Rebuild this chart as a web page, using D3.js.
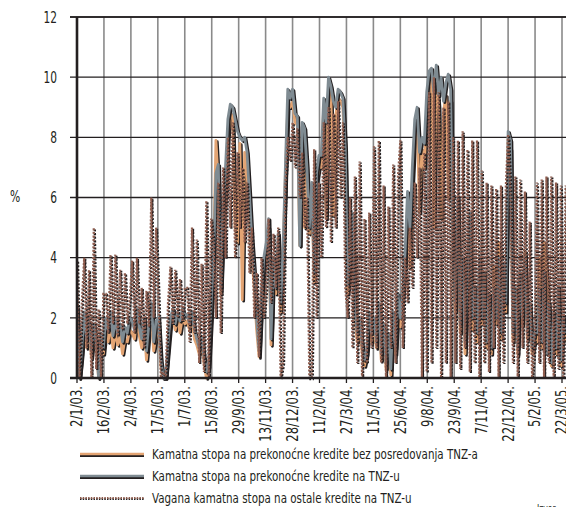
<!DOCTYPE html>
<html><head><meta charset="utf-8">
<script src="https://cdn.jsdelivr.net/npm/d3@7/dist/d3.min.js"></script>
<style>
body{margin:0;background:#fff}
svg{display:block}
text{font-family:"Liberation Sans Narrow","DejaVu Sans Condensed","Arial Narrow",sans-serif;fill:#231f20}
</style>
</head><body>
<svg id="chart" width="566" height="507"></svg>
<script>
// ---- data ----
const startDate = "2003-01-02";
const stepDays = 4;
const tickLabels = ["2/1/03.","16/2/03.","2/4/03.","17/5/03.","1/7/03.","15/8/03.","29/9/03.","13/11/03.","28/12/03.","11/2/04.","27/3/04.","11/5/04.","25/6/04.","9/8/04.","23/9/04.","7/11/04.","22/12/04.","5/2/05.","22/3/05."];
const yTicks = [0,2,4,6,8,10,12];
const seriesNames = [
  "Kamatna stopa na prekonoćne kredite bez posredovanja TNZ-a",
  "Kamatna stopa na prekonoćne kredite na TNZ-u",
  "Vagana kamatna stopa na ostale kredite na TNZ-u"
];
const orangeVals = [
 2.2,0.0,0.8,2.0,1.0,1.6,0.7,1.5,1.0,0.0,1.2,0.8,
 1.6,1.2,1.8,1.0,1.5,1.1,1.4,0.8,1.3,1.2,1.6,
 1.5,1.3,2.0,1.4,1.0,1.7,0.6,1.5,2.1,0.9,1.4,
 1.7,0.4,0.0,0.0,0.9,1.8,2.0,1.6,2.0,1.5,2.0,1.8,
 1.9,1.6,2.0,1.3,1.1,0.8,1.2,0.5,0.0,0.4,2.0,
 3.8,7.9,6.5,2.8,5.0,6.2,8.0,8.8,8.7,5.0,4.5,
 7.8,2.6,7.5,6.8,5.5,4.0,3.0,1.6,0.7,2.5,3.6,
 4.2,5.0,1.1,3.7,2.8,4.5,2.2,4.0,6.7,9.0,9.0,9.2,
 8.5,8.4,4.4,8.2,5.0,6.8,4.8,6.2,3.2,6.5,7.0,
 7.0,9.0,5.3,9.7,9.4,5.4,8.7,9.3,9.2,9.0,7.2,
 2.8,3.5,5.0,2.0,1.2,1.7,0.9,0.4,0.8,1.8,1.2,
 1.7,1.0,2.2,0.6,1.5,0.3,1.2,0.1,1.8,0.8,2.4,1.7,
 2.7,3.8,5.8,3.7,6.5,8.2,8.7,5.5,7.6,7.0,9.0,
 9.8,10.0,5.0,10.0,9.0,5.3,8.8,9.4,6.0,9.2,3.6,
 2.2,5.5,1.5,3.6,0.8,3.2,5.0,1.6,2.7,1.2,3.5,
 1.8,3.2,1.0,2.5,0.8,3.7,1.8,4.5,1.3,3.5,2.2,8.0,
 7.6,1.2,2.8,0.8,3.2,1.8,4.2,1.3,2.2,0.8,1.2,
 1.2,4.0,1.0,4.5,3.5,2.2,0.4,2.0,0.8,2.7,0.4,1.8,1.2
];
const grayVals = [
 2.4,0.0,1.0,2.2,1.3,1.9,0.9,1.8,1.2,0.0,1.5,1.0,
 2.0,1.6,2.2,1.4,1.9,1.5,1.8,1.2,1.7,1.5,2.0,
 1.9,1.6,2.3,1.7,1.3,2.0,0.9,1.8,2.5,1.2,1.9,
 2.0,0.6,0.0,0.0,1.2,2.0,2.3,1.8,2.2,1.9,2.3,2.1,
 2.1,1.8,2.2,1.6,1.3,1.0,1.4,0.7,0.2,0.6,2.5,
 4.0,6.8,7.1,3.0,5.5,7.0,8.6,9.1,9.0,8.6,8.2,
 8.0,7.9,8.0,7.5,6.1,4.6,3.5,1.9,0.9,2.8,4.0,
 4.5,5.3,1.3,4.0,3.0,4.8,2.5,4.2,7.0,9.6,9.3,9.6,
 8.8,8.7,4.4,8.5,8.3,7.0,5.0,6.5,3.5,6.8,7.4,
 7.4,9.3,8.5,10.0,9.7,9.2,9.0,9.6,9.5,9.3,7.6,
 3.1,4.0,5.5,2.2,1.5,2.0,1.1,0.6,1.0,2.2,1.5,
 2.0,1.2,2.5,0.8,1.8,0.5,1.5,0.3,2.2,1.0,2.8,2.0,
 3.0,4.2,6.2,5.0,7.0,8.6,9.0,7.5,8.0,7.8,9.5,
 10.2,10.3,9.5,10.4,9.4,10.0,9.2,9.8,10.1,9.6,4.0,
 2.5,6.0,1.8,4.0,1.2,3.5,5.5,2.0,3.0,1.5,4.0,
 2.0,3.5,1.2,2.8,1.0,3.0,2.0,4.0,1.5,3.8,2.5,8.2,
 7.9,1.5,3.0,1.0,3.5,2.0,4.0,1.5,2.5,1.0,1.5,
 1.5,3.0,1.2,3.5,0.8,2.5,0.5,2.2,1.0,3.0,0.6,2.0,1.5
];
const dottedVals = [
 3.9,0.0,2.5,4.0,1.0,3.6,0.0,5.0,0.3,2.3,0.0,2.8,
 2.8,1.5,4.1,1.8,4.1,1.4,3.6,1.6,3.5,1.8,2.6,
 3.9,1.5,4.0,1.8,3.0,1.0,2.9,1.7,6.0,2.0,5.0,
 2.7,0.0,0.2,0.0,2.5,3.7,1.8,3.6,2.0,3.3,1.9,3.0,
 3.0,1.2,5.0,1.5,4.6,0.5,3.8,0.2,5.9,0.0,5.3,
 4.5,2.0,6.5,1.5,7.0,4.0,8.0,5.0,8.5,4.0,7.5,
 5.0,7.0,4.5,6.5,3.5,5.0,2.0,3.5,0.7,4.0,2.0,
 3.0,5.3,2.5,4.8,3.0,5.0,0.0,0.5,6.4,8.0,7.2,8.5,
 7.0,8.3,6.0,7.5,5.0,6.0,0.0,0.0,7.6,2.0,6.5,
 4.0,8.5,5.0,9.0,4.5,8.8,5.0,9.2,6.0,8.5,3.0,
 2.0,6.0,1.0,6.7,0.5,7.2,0.0,5.3,0.5,5.5,1.0,
 7.7,1.0,7.9,0.5,6.4,0.0,5.7,1.0,7.1,0.5,6.7,7.9,
 1.0,4.0,2.5,5.0,3.0,6.5,4.0,7.0,0.0,7.5,0.2,
 9.5,0.5,10.0,1.0,9.5,0.0,9.0,0.5,9.2,0.0,8.0,
 0.5,7.9,0.3,8.2,1.0,7.6,0.2,7.9,0.5,7.9,0.0,
 6.9,0.5,6.5,0.2,6.4,1.0,6.3,0.0,6.4,0.5,6.3,8.1,
 6.0,0.5,6.7,0.0,6.6,1.0,6.2,0.5,5.2,0.0,1.0,
 6.5,0.5,6.6,0.0,6.7,0.5,6.7,0.0,6.5,0.3,6.4,0.0,6.4
];

// ---- chart ----
const svg = d3.select("#chart");
const parseISO = d3.timeParse("%Y-%m-%d");
const parseLabel = s => { const p = s.replace(/\.$/,"").split("/"); return new Date(2000 + +p[2], +p[1]-1, +p[0]); };
const tickDates = tickLabels.map(parseLabel);
const t0 = parseISO(startDate);
const dates = grayVals.map((_, i) => d3.timeDay.offset(t0, i * stepDays));

const pLeft = 77, pTop = 17, pBottom = 378, pRight = 566;
const x = d3.scaleTime().domain([tickDates[0], tickDates[tickDates.length-1]]).range([77, 562]);
const y = d3.scaleLinear().domain([0, 12]).range([pBottom, pTop]);

const ink = "#231f20";

// vertical gridlines
svg.append("g").selectAll("line").data(tickDates.slice(1)).join("line")
  .attr("x1", d => x(d)).attr("x2", d => x(d))
  .attr("y1", pTop).attr("y2", pBottom)
  .attr("stroke", "#8a8a8a").attr("stroke-width", 1.6);

// horizontal gridlines (extend as ticks to the left)
svg.append("g").selectAll("line").data(yTicks.slice(1)).join("line")
  .attr("x1", 70).attr("x2", pRight)
  .attr("y1", d => y(d)).attr("y2", d => y(d))
  .attr("stroke", ink).attr("stroke-width", 1.3);

// y labels (condensed look)
svg.append("g").selectAll("text").data(yTicks).join("text")
  .attr("transform", d => `translate(57,${y(d)}) scale(0.74,1)`)
  .attr("dy", "0.36em")
  .attr("text-anchor", "end").attr("font-size", 16).text(d => d);
svg.append("text").attr("transform", "translate(15,197) scale(0.8,1)").attr("dy", "0.36em")
  .attr("text-anchor", "middle").attr("font-size", 15).text("%");

// series
const line = vals => d3.line().x((d, i) => x(dates[i])).y(d => y(d))(vals);
const plot = svg.append("g");
plot.append("clipPath").attr("id", "clip").append("rect")
  .attr("x", pLeft).attr("y", 0).attr("width", pRight - pLeft).attr("height", pBottom + 4);
const g = plot.append("g").attr("clip-path", "url(#clip)");

const orange = "#e3a473", gray = "#7f8b92", brown = "#8e5d4f";
function drawSolid(vals, color) {
  g.append("path").attr("d", line(vals)).attr("fill", "none")
    .attr("stroke", ink).attr("stroke-width", 2.8).attr("stroke-linejoin", "round")
    .attr("transform", "translate(1.4,1.4)");
  g.append("path").attr("d", line(vals)).attr("fill", "none")
    .attr("stroke", color).attr("stroke-width", 2.8).attr("stroke-linejoin", "round");
}
drawSolid(orangeVals, orange);
drawSolid(grayVals, gray);
g.append("path").attr("d", line(dottedVals)).attr("fill", "none")
  .attr("stroke", ink).attr("stroke-width", 2.2).attr("stroke-dasharray", "2,1.6")
  .attr("transform", "translate(1.1,1.1)");
g.append("path").attr("d", line(dottedVals)).attr("fill", "none")
  .attr("stroke", brown).attr("stroke-width", 2.2).attr("stroke-dasharray", "2,1.6");

// axes lines
svg.append("line").attr("x1", pLeft).attr("x2", pLeft).attr("y1", pTop).attr("y2", pBottom + 1)
  .attr("stroke", ink).attr("stroke-width", 2.6);
svg.append("line").attr("x1", 70).attr("x2", pRight).attr("y1", pBottom).attr("y2", pBottom)
  .attr("stroke", ink).attr("stroke-width", 2.6);
svg.append("line").attr("x1", 70).attr("x2", pRight).attr("y1", pTop).attr("y2", pTop)
  .attr("stroke", ink).attr("stroke-width", 1.3);

// x ticks and labels
svg.append("g").selectAll("line").data(tickDates).join("line")
  .attr("x1", d => x(d)).attr("x2", d => x(d)).attr("y1", pBottom).attr("y2", pBottom + 5)
  .attr("stroke", ink).attr("stroke-width", 1.3);
svg.append("g").selectAll("text").data(tickLabels).join("text")
  .attr("transform", (d, i) => `translate(${x(tickDates[i])},386) rotate(-90) scale(0.86,1)`)
  .attr("text-anchor", "end").attr("dy", "0.36em").attr("font-size", 15).text(d => d);

// legend
const legY = [454, 476, 498];
const leg = svg.append("g");
[[orange, false], [gray, false], [brown, true]].forEach(([c, dotted], i) => {
  const yy = legY[i];
  if (!dotted) {
    leg.append("line").attr("x1", 80).attr("x2", 144).attr("y1", yy + 1.6).attr("y2", yy + 1.6)
      .attr("stroke", ink).attr("stroke-width", 2.6);
    leg.append("line").attr("x1", 80).attr("x2", 144).attr("y1", yy).attr("y2", yy)
      .attr("stroke", c).attr("stroke-width", 2.6);
  } else {
    leg.append("line").attr("x1", 80).attr("x2", 144).attr("y1", yy + 1).attr("y2", yy + 1)
      .attr("stroke", ink).attr("stroke-width", 2).attr("stroke-dasharray", "1.5,1.2");
    leg.append("line").attr("x1", 80).attr("x2", 144).attr("y1", yy).attr("y2", yy)
      .attr("stroke", c).attr("stroke-width", 2).attr("stroke-dasharray", "1.5,1.2");
  }
  leg.append("text").attr("transform", `translate(152,${yy}) scale(0.82,1)`).attr("dy", "0.36em")
    .attr("font-size", 14).text(seriesNames[i]);
});

svg.append("text").attr("transform", "translate(537,512) scale(0.85,1)").attr("font-size", 10).attr("fill", "#555").text("Izvor:");
</script>
</body></html>
